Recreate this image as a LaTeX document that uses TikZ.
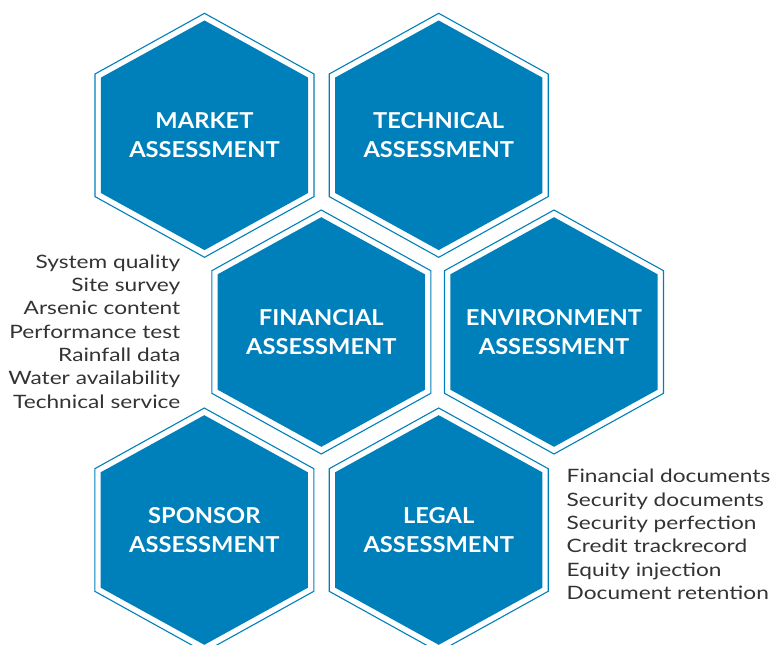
\documentclass[tikz,border=0pt]{standalone}
\usepackage{fontspec}
\setmainfont{Lato}
\newfontfamily\listfont[FakeStretch=1.23]{Lato}
\newfontfamily\labelfont[FakeStretch=1.08]{Lato}
\definecolor{hexblue}{RGB}{0,128,187}
\definecolor{txtgray}{RGB}{51,51,51}
\newcommand\hexcell[4]{%
  \draw[hexline, shift={(#2,#3)}] (0,-122) -- (109.5,-61.3) -- (109.5,61.3) -- (0,122) -- (-109.5,61.3) -- (-109.5,-61.3) -- cycle;
  \fill[hexfill, shift={(#2,#3)}] (0,-114.8) -- (103.6,-57.7) -- (103.6,57.7) -- (0,114.8) -- (-103.6,57.7) -- (-103.6,-57.7) -- cycle;
  \node[hexlabel] (#1) at (#2,#3) {#4};
}
\begin{document}
\begin{tikzpicture}[x=1bp,y=-1bp,
  hexline/.style={draw=hexblue, line width=1.1bp, fill=white},
  hexfill/.style={fill=hexblue},
  hexlabel/.style={text=white, font=\labelfont\fontsize{22}{29}\selectfont\bfseries, align=center, inner sep=0pt},
  listitem/.style={text=txtgray, font=\listfont\fontsize{18.5}{23}\selectfont, inner sep=0pt}]
\useasboundingbox (0,0) rectangle (773,645);
\hexcell{market}{204.5}{135.3}{MARKET\\ASSESSMENT}
\hexcell{technical}{438.7}{135.3}{TECHNICAL\\ASSESSMENT}
\hexcell{financial}{321.3}{332}{FINANCIAL\\ASSESSMENT}
\hexcell{environment}{554}{332}{ENVIRONMENT\\ASSESSMENT}
\hexcell{sponsor}{204.3}{530}{SPONSOR\\ASSESSMENT}
\hexcell{legal}{438.7}{530}{LEGAL\\ASSESSMENT}
\foreach \t [count=\i from 0] in {System quality, Site survey, Arsenic content, Performance test, Rainfall data, Water availability, Technical service}
  \node[listitem, anchor=base east] (left\i) at (180.5, 268.3+\i*23.3) {\t};
\foreach \t [count=\i from 0] in {Financial documents, Security documents, Security perfection, Credit trackrecord, Equity injection, Document retention}
  \node[listitem, anchor=base west] (right\i) at (566.5, 482.7+\i*23.4) {\t};
\end{tikzpicture}
\end{document}
